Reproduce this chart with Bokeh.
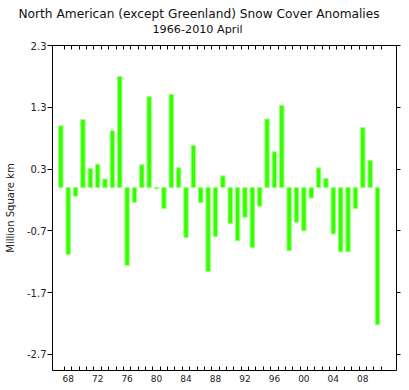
from bokeh.plotting import figure
from bokeh.models import FixedTicker, LinearAxis, Title, Range1d, ColumnDataSource
from bokeh.embed import file_html
from bokeh.resources import INLINE

# ---- data ----
years = list(range(1967, 2011))
anomalies = [1.00, -1.08, -0.14, 1.10, 0.31, 0.38, 0.14, 0.92, 1.80, -1.26,
             -0.24, 0.37, 1.47, -0.02, -0.34, 1.51, 0.32, -0.81, 0.68, -0.24,
             -1.36, -0.79, 0.19, -0.58, -0.86, -0.48, -0.97, -0.30, 1.11, 0.58,
             1.33, -1.02, -0.56, -0.70, -0.17, 0.32, 0.15, -0.75, -1.04, -1.04,
             -0.34, 0.97, 0.44, -2.22]
x_label_years = [1968, 1972, 1976, 1980, 1984, 1988, 1992, 1996, 2000, 2004, 2008]
x_tick_labels = ["68", "72", "76", "80", "84", "88", "92", "96", "00", "04", "08"]
x_minor_ticks = [y + 0.5 for y in years]
y_ticks = [2.3, 1.3, 0.3, -0.7, -1.7, -2.7]
y_tick_labels = ["2.3", "1.3", "0.3", "-0.7", "-1.7", "-2.7"]

title_text = "North American (except Greenland) Snow Cover Anomalies"
subtitle_text = "1966-2010 April"
y_label = "Million Square km"

src = ColumnDataSource(dict(year=years, value=anomalies))

p = figure(width=409, height=390,
           x_range=Range1d(1965.87, 2012.58), y_range=Range1d(-2.96, 2.3),
           output_backend="svg", toolbar_location=None,
           x_axis_location=None, y_axis_location=None,
           min_border_left=52, min_border_right=13, min_border_top=45,
           min_border_bottom=20)
p.xgrid.visible = False
p.ygrid.visible = False
p.outline_line_color = None
p.background_fill_color = "white"
p.border_fill_color = "white"

p.vbar(x="year", top="value", bottom=0, width=0.6, source=src,
       fill_color="#33ff00", line_color="#9cff7a", line_width=1)

tick_font = "DejaVu Sans"

# bottom axis
xb = LinearAxis(ticker=FixedTicker(ticks=x_label_years, minor_ticks=x_minor_ticks),
                major_label_overrides=dict(zip(x_label_years, x_tick_labels)))
xb.major_tick_in = 0
xb.major_tick_out = 0
xb.minor_tick_in = 4
xb.minor_tick_out = 0
xb.major_label_standoff = 4
xb.major_label_text_font = tick_font
xb.major_label_text_font_size = "9px"
xb.major_label_text_color = "#222222"
xb.axis_line_color = "black"
p.add_layout(xb, "below")

# left axis
yl = LinearAxis(ticker=FixedTicker(ticks=y_ticks, minor_ticks=[]),
                major_label_overrides=dict(zip(y_ticks, y_tick_labels)),
                axis_label=y_label)
yl.major_tick_in = 0
yl.major_tick_out = 5
yl.minor_tick_in = 0
yl.minor_tick_out = 0
yl.major_label_standoff = 1
yl.major_label_text_font = tick_font
yl.major_label_text_font_size = "10px"
yl.major_label_text_color = "#222222"
yl.axis_label_text_font = tick_font
yl.axis_label_text_font_size = "10px"
yl.axis_label_text_font_style = "normal"
yl.axis_label_text_color = "#222222"
yl.axis_label_standoff = 8
p.add_layout(yl, "left")

# right axis (ticks only)
yr = LinearAxis(ticker=FixedTicker(ticks=[], minor_ticks=y_ticks))
yr.major_tick_in = 0
yr.major_tick_out = 0
yr.minor_tick_in = 0
yr.minor_tick_out = 4
yr.major_label_standoff = 0
p.add_layout(yr, "right")

# top axis: inward minor ticks; invisible outward major ticks reserve space
xt = LinearAxis(ticker=FixedTicker(ticks=x_label_years, minor_ticks=x_minor_ticks))
xt.major_tick_in = 0
xt.major_tick_out = 10
xt.major_tick_line_alpha = 0.001
xt.minor_tick_in = 4
xt.minor_tick_out = 0
xt.major_label_standoff = 0
xt.major_label_text_color = None
p.add_layout(xt, "above")

p.add_layout(Title(text=subtitle_text, align="left", offset=100,
                   text_font=tick_font, text_font_size="11.2px",
                   text_font_style="normal", text_color="#111111", standoff=0), "above")
p.add_layout(Title(text=title_text, align="left", offset=-34,
                   text_font=tick_font, text_font_size="12.2px",
                   text_font_style="normal", text_color="#111111", standoff=0), "above")

open("out.html", "w").write(file_html(p, INLINE))
